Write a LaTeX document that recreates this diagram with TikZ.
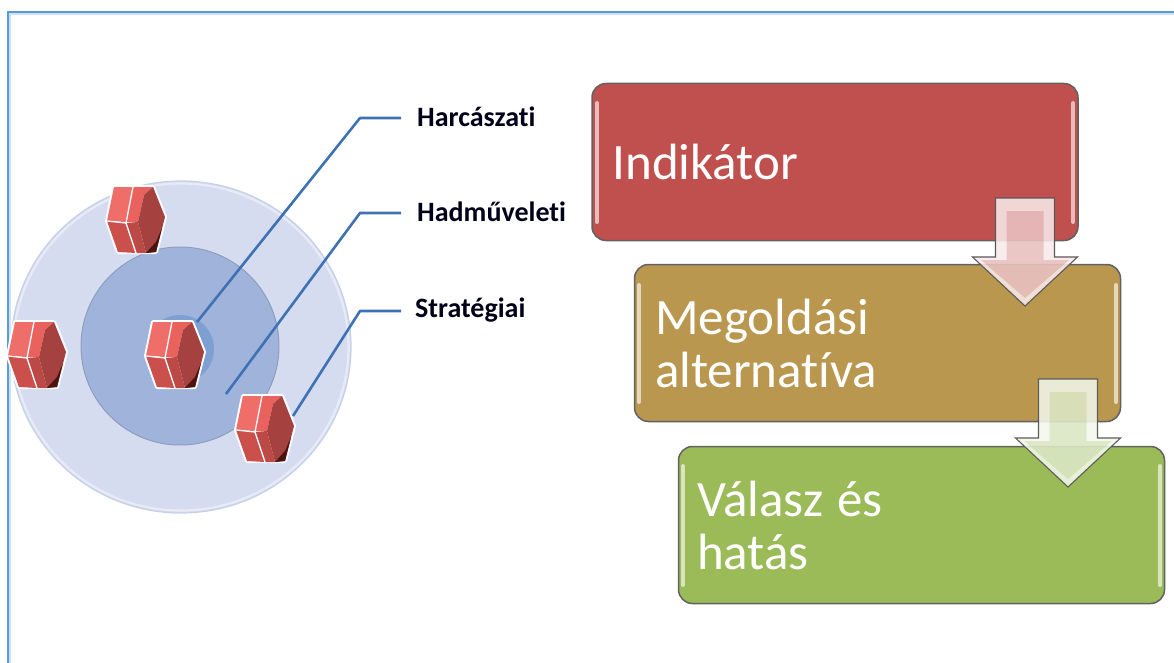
\documentclass[tikz,border=0pt]{standalone}
\usepackage{fontspec}
\setmainfont[Ligatures=NoCommon]{Carlito}
\usetikzlibrary{calc,shapes.geometric}
\definecolor{frameblue}{HTML}{5B9BD5}
\definecolor{lineblue}{HTML}{3F72B5}
\definecolor{ringout}{HTML}{D5DCEF}
\definecolor{ringin}{HTML}{A0B3DB}
\definecolor{ringcore}{HTML}{7E9FD2}
\definecolor{boxred}{HTML}{C0504D}
\definecolor{boxbrown}{HTML}{B9974F}
\definecolor{boxgreen}{HTML}{9BBB59}
\definecolor{hexlight}{HTML}{EF6E6A}
\definecolor{hexmid}{HTML}{E9625E}
\definecolor{hexlow}{HTML}{CB504C}
\definecolor{hexdark}{HTML}{A5413E}
\definecolor{hexdeep}{HTML}{4A1412}
\tikzset{
  x=1pt,y=-1pt,
  flowbox/.style={draw=black!62,line width=1.5pt,rounded corners=14pt,minimum width=486pt,minimum height=157pt,
    inner sep=0pt,text width=445pt,align=left,text=white,font=\fontsize{51}{53}\selectfont},
  lbl/.style={anchor=west,inner sep=0pt,text=black!90!blue,font=\bfseries\fontsize{28}{30}\selectfont},
  lead/.style={draw=lineblue,line width=2.6pt,line join=round},
  gloss/.style={line width=4pt,line cap=round,draw=white,opacity=.62},
  pics/hexa/.style={code={
    \fill[white,draw=white,line width=4pt,line join=round] (-22,-33)--(17,-33)--(29,-3)--(20,32)--(-18,32)--(-29,1)--cycle;
    \fill[hexlight] (-22,-33)--(-3,-33)--(-10,2)--(-29,1)--cycle;
    \fill[hexmid] (-3,-33)--(17,-33)--(8,-25)--(2,2)--(-10,2)--cycle;
    \fill[hexlow] (-29,1)--(-10,3)--(0,33)--(-18,32)--cycle;
    \fill[hexlow!92!black] (-10,3)--(2,2)--(10,33)--(0,33)--cycle;
    \fill[hexdark] (8,-25)--(17,-33)--(29,-3)--(20,32)--(10,33)--(2,2)--cycle;
    \fill[hexdeep] (10,33)--(20,22)--(26,8)--(20,32)--cycle;
    \draw[white,line width=1.3pt] (-3,-33)--(-10,3)--(0,33) (-29,1)--(-10,3);
  }},
  pics/blockarrow/.style={code={
    \path[fill=white,fill opacity=.86,draw=black!65,line width=1.1pt,line join=miter]
      (-29.5,0)--(29.5,0)--(29.5,59)--(52.5,59)--(0,108)--(-52.5,59)--(-29.5,59)--cycle;
    \fill[#1,opacity=.10] (-29.5,0)--(29.5,0)--(29.5,59)--(52.5,59)--(0,108)--(-52.5,59)--(-29.5,59)--cycle;
    \fill[#1,opacity=.24] (-18.5,13)--(18.5,13)--(18.5,62)--(44,62)--(0,100)--(-44,62)--(-18.5,62)--cycle;
  }}
}
\begin{document}
\begin{tikzpicture}
\useasboundingbox (0,0) rectangle (1174,663);
\fill[white] (0,0) rectangle (1174,663);
% frame
\draw[frameblue!30,line width=1.2pt] (10,663)--(10,14)--(1174,14);
\draw[frameblue,line width=1.9pt] (8,663)--(8,12)--(1174,12);
% rings
\node[ellipse,minimum width=340pt,minimum height=332pt,inner sep=0pt,fill=ringout,draw=ringin!60!white,line width=1.2pt] (outerring) at (181,347) {};
\node[ellipse,minimum width=335pt,minimum height=327pt,inner sep=0pt,draw=white,opacity=.45,line width=2.2pt] (outerglow) at (181,347) {};
\node[circle,minimum size=198pt,inner sep=0pt,fill=ringin,draw=ringin!88!black,line width=1pt] (innerring) at (180,346) {};
\node[circle,minimum size=68pt,inner sep=0pt,fill=ringcore] (corering) at (180,349) {};
% label anchors
\coordinate (a1) at (197,322);
\coordinate (a2) at (226,394);
\coordinate (a3) at (293,416);
\coordinate (k1) at (360,118);
\coordinate (k2) at (360,213);
\coordinate (k3) at (360,311);
\coordinate (e1) at (401,118);
\coordinate (e2) at (401,213);
\coordinate (e3) at (401,311);
\draw[lead] (a1)--(k1)--(e1);
\draw[lead] (a2)--(k2)--(e2);
\draw[lead] (a3)--(k3)--(e3);
\node[lbl] (harc) at (417,117) {Harcászati};
\node[lbl] (hadm) at (417,212) {Hadműveleti};
\node[lbl] (strat) at (415,310) {Stratégiai};
% hexagons
\pic at (136,220) {hexa};
\pic at (37,355) {hexa};
\pic at (175,355) {hexa};
\pic at (265,429) {hexa};
% flow boxes
\node[flowbox,fill=boxred] (ind) at (835,162) {Indikátor};
\node[flowbox,fill=boxbrown] (meg) at (877.5,343) {Megoldási\\alternatíva};
\node[flowbox,fill=boxgreen,text width=449pt] (val) at (921.5,525) {{\spaceskip=14pt\relax Válasz és}\\hatás};
\draw[gloss] (597,103)--(597,222) (1073,103)--(1073,222);
\draw[gloss] (639,285)--(639,402) (1116,285)--(1116,402);
\draw[gloss] (683,466)--(683,585) (1160,466)--(1160,585);
% block arrows
\pic at (1025,198) {blockarrow=boxred};
\pic at (1068,379) {blockarrow=boxgreen};
\end{tikzpicture}
\end{document}
